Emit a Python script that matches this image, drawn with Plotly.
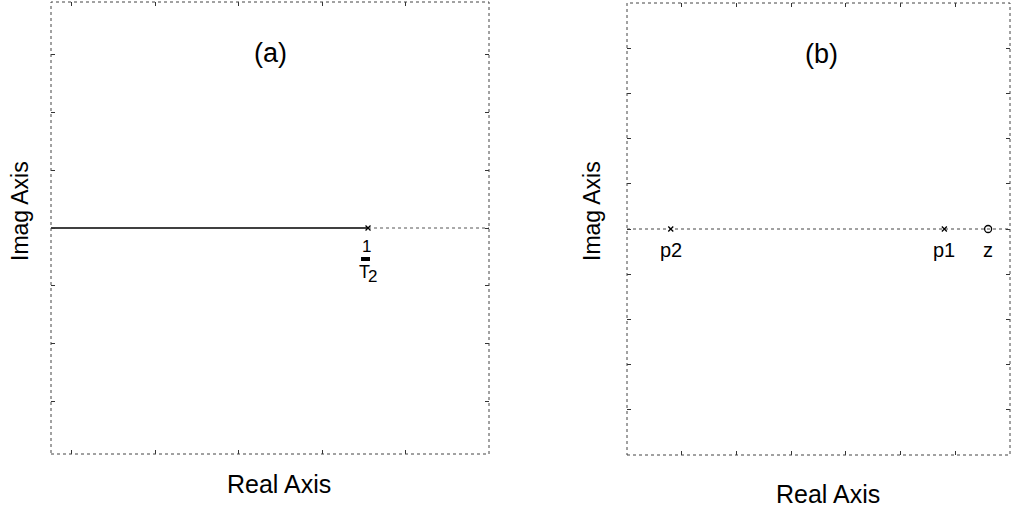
import plotly.graph_objects as go

# Panel (a): single real pole at -1/T2, locus runs left along the real axis
pole_a = [-0.45]
range_a_x = [-4.25, 1.0]
range_a_y = [-3.9, 3.9]

# Panel (b): two real poles and one real zero
poles_b = [-6.2, -1.2]
pole_b_names = ["p2", "p1"]
zeros_b = [-0.4]
zero_b_names = ["z"]
range_b_x = [-7.0, 0.0]
range_b_y = [-5.0, 5.0]

FONT = "Liberation Sans, Arial, sans-serif"
INK = "#000000"
FRAME = "#444444"

fig = go.Figure()

# (a) locus: solid from the left edge to the pole
fig.add_trace(go.Scatter(x=[range_a_x[0], pole_a[0]], y=[0, 0], mode="lines",
                         line=dict(color=INK, width=1.3),
                         xaxis="x", yaxis="y", showlegend=False, hoverinfo="skip"))
# (a) remaining real axis, dotted
fig.add_trace(go.Scatter(x=[pole_a[0], range_a_x[1]], y=[0, 0], mode="lines",
                         line=dict(color="#555555", width=1, dash="dot"),
                         xaxis="x", yaxis="y", showlegend=False, hoverinfo="skip"))
fig.add_trace(go.Scatter(x=pole_a, y=[0] * len(pole_a), mode="markers",
                         marker=dict(symbol="x-thin", size=5, color=INK, line=dict(color=INK, width=1.3)),
                         xaxis="x", yaxis="y", showlegend=False, hoverinfo="skip"))

# (b) real axis, dotted across the panel
fig.add_trace(go.Scatter(x=range_b_x, y=[0, 0], mode="lines",
                         line=dict(color="#444444", width=1, dash="dot"),
                         xaxis="x2", yaxis="y2", showlegend=False, hoverinfo="skip"))
fig.add_trace(go.Scatter(x=poles_b, y=[0] * len(poles_b), mode="markers",
                         marker=dict(symbol="x-thin", size=5, color=INK, line=dict(color=INK, width=1.3)),
                         xaxis="x2", yaxis="y2", showlegend=False, hoverinfo="skip"))
fig.add_trace(go.Scatter(x=zeros_b, y=[0] * len(zeros_b), mode="markers",
                         marker=dict(symbol="circle-open", size=7, color=INK, line=dict(color=INK, width=1.3)),
                         xaxis="x2", yaxis="y2", showlegend=False, hoverinfo="skip"))

annotations = []
# 1/T2 label under the pole in (a): numerator, then T and a lowered 2
for txt, dx, dy, size in (("1", -2, -18, 17), ("T", -4, -44, 18), ("2", 4, -48, 17)):
    annotations.append(dict(x=pole_a[0], y=0, xref="x", yref="y", text=txt, showarrow=False,
                            xanchor="center", yanchor="middle", xshift=dx, yshift=dy,
                            font=dict(family=FONT, size=size, color=INK)))
# pole / zero names in (b)
for xv, name in zip(poles_b + zeros_b, pole_b_names + zero_b_names):
    annotations.append(dict(x=xv, y=0, xref="x2", yref="y2", text=name, showarrow=False,
                            xanchor="center", yanchor="middle", yshift=-21,
                            font=dict(family=FONT, size=20, color=INK)))

# panel letters
annotations.append(dict(x=0.5, y=(454 - 53) / 452, xref="x domain", yref="y domain", text="(a)",
                        showarrow=False, xanchor="center", yanchor="middle",
                        font=dict(family=FONT, size=27, color=INK)))
annotations.append(dict(x=(821 - 627) / 383, y=(455 - 54) / 452, xref="x2 domain", yref="y2 domain",
                        text="(b)", showarrow=False, xanchor="center", yanchor="middle",
                        font=dict(family=FONT, size=27, color=INK)))

# axis titles
for xp, yp, txt, ang, size in ((20, 211, "Imag Axis", -90, 23), (592, 211, "Imag Axis", -90, 23),
                               (279, 484, "Real Axis", 0, 25), (828, 494, "Real Axis", 0, 25)):
    annotations.append(dict(x=xp / 1025, y=1 - yp / 514, xref="paper", yref="paper", text=txt,
                            textangle=ang, showarrow=False, xanchor="center", yanchor="middle",
                            font=dict(family=FONT, size=size, color=INK)))

shapes = []
# plot frames, dotted
for xr, yr in (("x domain", "y domain"), ("x2 domain", "y2 domain")):
    shapes.append(dict(type="rect", xref=xr, yref=yr, x0=0, x1=1, y0=0, y1=1,
                       line=dict(color=FRAME, width=1, dash="dot"), layer="above"))
# thick fraction bar, sized in pixels around the pole position
shapes.append(dict(type="rect", xref="x", yref="y", xsizemode="pixel", ysizemode="pixel",
                   xanchor=pole_a[0], yanchor=0, x0=-7, x1=2, y0=-29, y1=-33,
                   fillcolor=INK, line=dict(width=0)))

axis_common = dict(showgrid=False, zeroline=False, showticklabels=False, ticks="inside",
                   ticklen=4, tickcolor="#333333", tickwidth=1, mirror="ticks",
                   showline=False, dtick=1)

fig.update_layout(
    width=1025, height=514,
    margin=dict(l=0, r=0, t=0, b=0),
    paper_bgcolor="white", plot_bgcolor="white",
    xaxis=dict(domain=[51 / 1025, 489 / 1025], range=range_a_x, anchor="y", tick0=0, **axis_common),
    yaxis=dict(domain=[1 - 454 / 514, 1 - 2 / 514], range=range_a_y, anchor="x", tick0=0, **axis_common),
    xaxis2=dict(domain=[627 / 1025, 1010 / 1025], range=range_b_x, anchor="y2", tick0=0, **axis_common),
    yaxis2=dict(domain=[1 - 455 / 514, 1 - 3 / 514], range=range_b_y, anchor="x2", tick0=0, **axis_common),
    annotations=annotations,
    shapes=shapes,
)

fig.write_html("out.html")
